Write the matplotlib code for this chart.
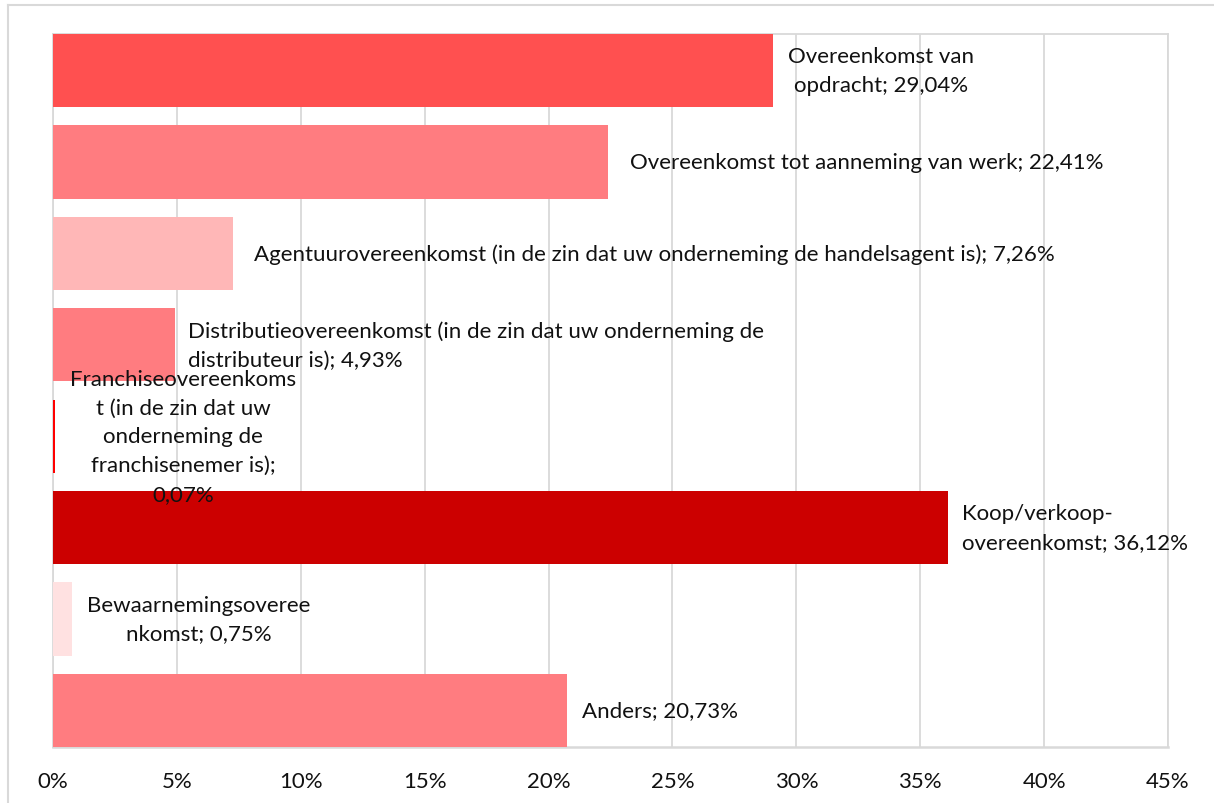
import matplotlib.pyplot as plt
from matplotlib.lines import Line2D
from matplotlib.ticker import FuncFormatter

# categories top -> bottom
labels = [
    'Overeenkomst van\nopdracht; 29,04%',
    'Overeenkomst tot aanneming van werk; 22,41%',
    'Agentuurovereenkomst (in de zin dat uw onderneming de handelsagent is); 7,26%',
    'Distributieovereenkomst (in de zin dat uw onderneming de\ndistributeur is); 4,93%',
    'Franchiseovereenkoms\nt (in de zin dat uw\nonderneming de\nfranchisenemer is);\n0,07%',
    'Koop/verkoop-\novereenkomst; 36,12%',
    'Bewaarnemingsoveree\nnkomst; 0,75%',
    'Anders; 20,73%',
]
values = [29.04, 22.41, 7.26, 4.93, 0.07, 36.12, 0.75, 20.73]
colors = ['#FF5050', '#FF7C80', '#FFB7B7', '#FF7C80', '#FF0000', '#CC0000', '#FFE1E1', '#FF7C80']
align = ['center', 'left', 'left', 'left', 'center', 'left', 'center', 'left']
offsets = [11, 16, 15, 9, 11, 10, 11, 11]  # label gap in points

plt.rcParams['font.family'] = ['Lato', 'DejaVu Sans']

fig = plt.figure(figsize=(12.14, 8.04), dpi=100)
ax = fig.add_axes([53 / 1214, 56 / 804, (1168 - 53) / 1214, (748 - 35) / 804])

n = len(values)
ypos = [n - 1 - i for i in range(n)]
ax.barh(ypos, values, height=0.8, color=colors, zorder=3)

for y, v, lab, al, off in zip(ypos, values, labels, align, offsets):
    ax.annotate(lab, xy=(v, y), xytext=(off, 0), textcoords='offset points',
                ha='left', va='center', multialignment=al, fontsize=16,
                color='#111111', linespacing=1.55, zorder=5)

ax.set_xlim(0, 45)
ax.set_ylim(-0.4, n - 0.6)
ax.set_xticks(range(0, 50, 5))
ax.xaxis.set_major_formatter(FuncFormatter(lambda x, p: f'{int(x)}%'))
ax.set_yticks([])
ax.tick_params(axis='x', length=0, pad=17, labelsize=16, labelcolor='#111111')
ax.grid(axis='x', color='#D9D9D9', linewidth=1.3, zorder=0)
ax.set_axisbelow(True)
for s in ax.spines.values():
    s.set_color('#D9D9D9')
    s.set_linewidth(1.3)
    s.set_zorder(1)
ax.spines['bottom'].set_linewidth(1.8)

# outer frame of the chart
fig.add_artist(Line2D([8 / 1214, 8 / 1214], [0, 1 - 6 / 804], transform=fig.transFigure,
                      color='#D9D9D9', linewidth=1.5))
fig.add_artist(Line2D([8 / 1214, 1], [1 - 6 / 804, 1 - 6 / 804], transform=fig.transFigure,
                      color='#D9D9D9', linewidth=1.5))

fig.savefig('out.png', dpi=100)
